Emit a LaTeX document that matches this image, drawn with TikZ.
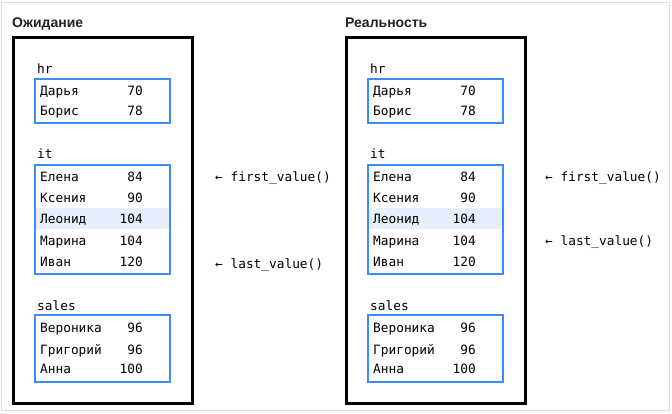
\documentclass[tikz,border=0pt]{standalone}
\usepackage{fontspec}
\setmainfont{Liberation Sans}
\newfontfamily\monof{DejaVu Sans Mono}
\newfontfamily\titlef{Liberation Sans}
\newcommand\monosz{\monof\fontsize{12.8}{15}\selectfont}
\definecolor{framegray}{HTML}{DDDDDD}
\definecolor{boxblue}{HTML}{3D8CF5}
\definecolor{hlblue}{HTML}{E6EFFB}
\definecolor{titlecol}{HTML}{222222}
\tikzset{
  panel/.style={draw=black, line width=3pt},
  grp/.style={draw=boxblue, line width=2pt},
  namecell/.style={font=\monosz, inner sep=0pt, anchor=base west},
  numcell/.style={font=\monosz, inner sep=0pt, anchor=base east},
  grplabel/.style={font=\monosz, inner sep=0pt, anchor=base west},
  note/.style={font=\monosz, inner sep=0pt, anchor=base west},
  ttl/.style={font=\titlef\bfseries\fontsize{14}{16}\selectfont, text=titlecol, inner sep=0pt, anchor=base west}
}
\begin{document}
\begin{tikzpicture}[x=1pt,y=-1pt]
\useasboundingbox (0,0) rectangle (672,414);
\draw[framegray, line width=1pt] (1.5,2.5) rectangle (669.5,410);
\foreach \p/\dx/\title in {L/0/Ожидание, R/333/Реальность}{
  \begin{scope}[xshift=\dx]
    \node[ttl] (\p title) at (12,27.5) {\title};
    \fill[hlblue] (34,208) rectangle (169,229);
    \node[panel, draw, minimum width=179pt, minimum height=366pt, inner sep=0pt, anchor=north west] (\p panel) at (12,36) {};
    \node[grp, draw, minimum width=135pt, minimum height=44pt, inner sep=0pt, anchor=north west] (\p hr) at (34,78) {};
    \node[grp, draw, minimum width=135pt, minimum height=109pt, inner sep=0pt, anchor=north west] (\p it) at (34,164) {};
    \node[grp, draw, minimum width=135pt, minimum height=67pt, inner sep=0pt, anchor=north west] (\p sales) at (34,314) {};
    \node[grplabel] (\p hrlab) at (37,74) {hr};
    \node[grplabel] (\p itlab) at (37,159) {it};
    \node[grplabel] (\p saleslab) at (37,310) {sales};
    \foreach \n/\v/\y [count=\i] in {Дарья/70/96, Борис/78/116, Елена/84/182, Ксения/90/203, Леонид/104/224, Марина/104/245, Иван/120/266, Вероника/96/332, Григорий/96/354, Анна/100/373}{
      \node[namecell] (\p name\i) at (40,\y) {\n};
      \node[numcell] (\p num\i) at (143,\y) {\v};
    }
  \end{scope}
}
\node[note] (Lfirst) at (215,182) {← first\_value()};
\node[note] (Llast) at (215,268) {← last\_value()};
\node[note] (Rfirst) at (545,182) {← first\_value()};
\node[note] (Rlast) at (545,245) {← last\_value()};
\end{tikzpicture}
\end{document}
